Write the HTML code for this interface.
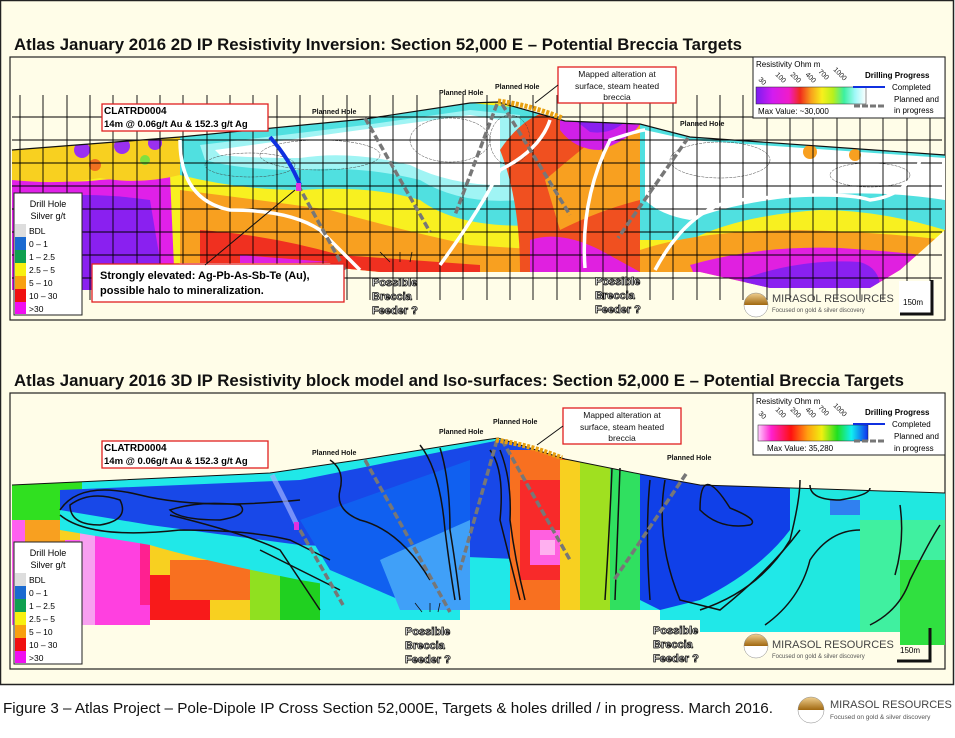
<!DOCTYPE html>
<html><head><meta charset="utf-8"><style>
html,body{margin:0;padding:0;background:#fff;}
svg{display:block;}
text{font-family:"Liberation Sans",sans-serif;}
</style></head><body>
<svg width="955" height="738" viewBox="0 0 955 738" xmlns="http://www.w3.org/2000/svg">
<defs>
<linearGradient id="res1" x1="0" x2="1">
<stop offset="0" stop-color="#7a1cf0"/><stop offset=".15" stop-color="#d21cf0"/><stop offset=".3" stop-color="#f01cc8"/><stop offset=".4" stop-color="#f02a1c"/><stop offset=".5" stop-color="#f8a01c"/><stop offset=".6" stop-color="#f8f01c"/><stop offset=".7" stop-color="#b8f01c"/><stop offset=".8" stop-color="#3cf0a0"/><stop offset=".9" stop-color="#a0f8f8"/><stop offset="1" stop-color="#fff"/></linearGradient>
<linearGradient id="res2" x1="0" x2="1">
<stop offset="0" stop-color="#ffd0ff"/><stop offset=".12" stop-color="#ff20d0"/><stop offset=".3" stop-color="#ff1010"/><stop offset=".45" stop-color="#ffa010"/><stop offset=".58" stop-color="#f0f010"/><stop offset=".72" stop-color="#20e020"/><stop offset=".85" stop-color="#10f0f0"/><stop offset="1" stop-color="#1030f0"/></linearGradient>
<linearGradient id="logo" x1="0" y1="0" x2="0" y2="1"><stop offset="0" stop-color="#f0d090"/><stop offset=".5" stop-color="#a06810"/><stop offset=".5" stop-color="#fff"/><stop offset="1" stop-color="#fff"/></linearGradient>
<clipPath id="c1"><path d="M12,150 L180,137 L365,119 L470,103 L498,102 L565,121 L640,124 L690,137 L945,155 L945,230 L900,270 L870,288 L770,288 L700,272 L560,272 L460,272 L380,272 L340,268 L330,263 L180,263 L95,290 L12,290 Z"/></clipPath>
<clipPath id="c2"><path d="M12,485 L270,473 L365,459 L470,442 L498,438 L565,459 L640,474 L700,485 L945,493 L945,645 L900,645 L900,632 L700,632 L700,620 L660,620 L660,610 L460,610 L460,620 L150,620 L150,625 L12,625 Z"/></clipPath>
</defs>
<!-- outer panel -->
<rect x="0.5" y="0.5" width="953" height="684" fill="#fffde8" stroke="#222" stroke-width="1.5"/>
<text x="14" y="50" font-size="17" font-weight="bold" fill="#111" textLength="728" lengthAdjust="spacingAndGlyphs">Atlas January 2016 2D IP Resistivity Inversion: Section 52,000 E – Potential Breccia Targets</text>
<text x="14" y="386" font-size="17" font-weight="bold" fill="#111" textLength="890" lengthAdjust="spacingAndGlyphs">Atlas January 2016 3D IP Resistivity block model and Iso-surfaces: Section 52,000 E – Potential Breccia Targets</text>
<rect x="10" y="57" width="935" height="263" fill="#fffde8" stroke="#222" stroke-width="1.2"/>
<rect x="10" y="393" width="935" height="276" fill="#fffde8" stroke="#222" stroke-width="1.2"/>

<!-- TOP section -->
<g clip-path="url(#c1)">
<rect x="0" y="90" width="955" height="220" fill="#f8f020"/>
<!-- left -->
<path d="M12,175 Q60,185 100,180 L170,175 L175,290 L12,290Z" fill="#e020e8"/>
<path d="M30,200 Q80,190 150,200 L165,290 L40,290Z" fill="#8a20f0"/>
<path d="M12,150 L180,137 L180,175 Q140,185 100,178 Q60,185 12,180Z" fill="#f8d020"/>
<circle cx="82" cy="150" r="8" fill="#9a30f0"/><circle cx="122" cy="146" r="8" fill="#9a30f0"/><circle cx="155" cy="143" r="7" fill="#9a30f0"/>
<circle cx="95" cy="165" r="6" fill="#f07020"/><circle cx="145" cy="160" r="5" fill="#80e040"/>
<!-- middle -->
<path d="M180,137 L365,119 L470,103 L545,110 L545,225 Q460,230 420,200 Q370,185 300,190 Q240,190 180,175Z" fill="#50e0e0"/>
<path d="M200,145 L365,125 L470,110 L520,115 L520,200 Q460,205 420,180 Q360,165 300,170 Q240,170 205,160Z" fill="#a0f4f4"/>
<path d="M215,150 L360,130 L470,115 L500,120 L500,185 Q450,185 410,165 Q350,150 300,158 Q250,158 220,155Z" fill="#fff"/>
<path d="M180,190 Q260,200 330,210 Q400,230 470,245 L545,250 L545,272 L180,272Z" fill="#f8a020"/>
<path d="M200,230 Q270,235 340,255 L480,265 L480,272 L200,272Z" fill="#f03020"/>
<path d="M240,255 L330,262 L240,265Z" fill="#e020e0"/>
<!-- center-right red -->
<path d="M500,150 Q520,120 545,112 L640,124 L640,272 L520,272 Q520,200 500,150Z" fill="#f05020"/>
<path d="M545,180 Q580,150 600,135 L640,125 L640,200 Q600,210 560,230Z" fill="#f8a020"/>
<path d="M560,118 L640,124 Q630,140 600,150 Q575,150 560,130Z" fill="#d020e8"/>
<path d="M575,120 L625,122 Q610,135 590,132Z" fill="#8a20f0"/>
<path d="M530,240 Q560,230 600,250 L640,272 L530,272Z" fill="#e020e0"/>
<!-- right -->
<path d="M640,124 L690,137 L945,155 L945,230 Q880,210 820,210 Q740,215 690,240 Q660,240 640,240Z" fill="#50e0e0"/>
<path d="M645,130 L690,140 L945,158 L945,200 Q880,190 820,195 Q740,200 690,220 Q660,215 645,200Z" fill="#fff"/>
<path d="M640,250 Q700,230 800,230 Q880,232 945,240 L945,250 L900,260 Q830,250 760,258 L700,272 L640,272Z" fill="#f8a020"/>
<path d="M690,265 Q760,245 840,248 Q900,252 920,255 L880,288 L700,288Z" fill="#e020e0"/>
<path d="M740,280 Q800,258 860,262 Q880,268 880,288 L760,288Z" fill="#8a20f0"/>
<circle cx="810" cy="152" r="7" fill="#f8a020"/><circle cx="855" cy="155" r="6" fill="#f8a020"/>
</g>
<!-- contours top (thin) -->
<g fill="none" stroke="#444" stroke-width="0.5" stroke-dasharray="3,1">
<ellipse cx="320" cy="155" rx="60" ry="15"/><ellipse cx="250" cy="165" rx="45" ry="12"/><ellipse cx="450" cy="140" rx="40" ry="22"/>
<ellipse cx="720" cy="160" rx="50" ry="18"/><ellipse cx="870" cy="175" rx="40" ry="12"/><ellipse cx="510" cy="140" rx="20" ry="25"/>
</g>
<!-- grid top -->
<g stroke="#000" stroke-width="0.9">
<path d="M20,95V300M43,95V300M67,95V300M90,95V300M113,95V300M137,95V300M160,95V300M183,95V300M207,95V300M230,95V300M253,95V300M277,95V300M300,95V300M323,95V300M347,95V300M370,95V300M393,95V300M417,95V300M440,95V300M463,95V300M487,95V300M510,95V300M533,95V300M557,95V300M580,95V300M603,95V300M627,95V300M650,95V300M673,95V300M697,95V300M720,95V300M743,95V300M767,95V300M790,95V300M813,95V300M837,95V300M860,95V300M883,95V300M907,95V300M930,95V300"/>
<path d="M12,117H942M12,140H942M12,163H942M12,186H942M12,209H942M12,232H942M12,255H942M12,278H942"/>
</g>
<path d="M12,150 L180,137 L365,119 L470,103 L498,102 L565,121 L640,124 L690,137 L945,155" fill="none" stroke="#111" stroke-width="1.2"/>
<!-- white fault lines top -->
<g fill="none" stroke="#fff" stroke-width="3.5">
<path d="M180,140 Q180,200 230,210 Q290,210 320,230 Q340,250 360,270"/>
<path d="M440,265 Q480,210 500,170 Q540,150 550,120"/>
<path d="M585,268 Q580,200 610,140 Q640,130 645,130"/>
<path d="M655,270 Q690,205 740,200 Q840,190 870,200 Q910,195 920,160"/>
</g>
<!-- drill holes top -->
<g fill="none" stroke="#777" stroke-width="3.5" stroke-dasharray="7,3">
<path d="M365,118 L430,232"/><path d="M497,104 L455,215"/><path d="M502,104 L570,215"/><path d="M688,138 L618,238"/><path d="M298,185 L345,270"/>
</g>
<path d="M270,137 Q290,160 300,185" fill="none" stroke="#1030e0" stroke-width="4"/>
<rect x="296" y="183" width="5" height="8" fill="#e030e0"/>
<path d="M498,101 Q530,105 562,118" fill="none" stroke="#e8a010" stroke-width="5" stroke-dasharray="3,1.5"/>
<!-- labels top -->
<g font-size="7" font-weight="bold" fill="#111">
<text x="312" y="114">Planned Hole</text><text x="439" y="95">Planned Hole</text><text x="495" y="89">Planned Hole</text><text x="680" y="126">Planned Hole</text>
</g>
<rect x="102" y="104" width="166" height="27" fill="#fff" stroke="#e02020" stroke-width="1.3"/>
<text x="104" y="114" font-size="10" font-weight="bold">CLATRD0004</text>
<text x="104" y="127" font-size="9.5" font-weight="bold">14m @ 0.06g/t Au &amp; 152.3 g/t Ag</text>
<rect x="558" y="67" width="118" height="36" fill="#fff" stroke="#e02020" stroke-width="1.3"/>
<g font-size="8.5" text-anchor="middle" fill="#111"><text x="617" y="77">Mapped alteration at</text><text x="617" y="89">surface, steam heated</text><text x="617" y="100">breccia</text></g>
<path d="M558,85 L535,103" stroke="#111" stroke-width="1"/>
<rect x="92" y="264" width="252" height="38" fill="#fff" stroke="#e02020" stroke-width="1.3"/>
<text x="100" y="279" font-size="11" font-weight="bold">Strongly elevated: Ag-Pb-As-Sb-Te (Au),</text>
<text x="100" y="294" font-size="11" font-weight="bold">possible halo to mineralization.</text>
<path d="M205,265 L295,190" stroke="#111" stroke-width="1"/>
<!-- drill hole legend top -->
<g>
<rect x="14" y="193" width="68" height="122" fill="#fff" stroke="#222"/>
<text x="48" y="207" font-size="9" text-anchor="middle">Drill Hole</text><text x="48" y="219" font-size="9" text-anchor="middle">Silver g/t</text>
<rect x="15" y="224" width="11" height="13" fill="#ddd"/><rect x="15" y="237" width="11" height="13" fill="#1a6ad0"/><rect x="15" y="250" width="11" height="13" fill="#10a050"/><rect x="15" y="263" width="11" height="13" fill="#f8f010"/><rect x="15" y="276" width="11" height="13" fill="#f8a010"/><rect x="15" y="289" width="11" height="13" fill="#f01010"/><rect x="15" y="302" width="11" height="12" fill="#f010f0"/>
<g font-size="8.5"><text x="29" y="234">BDL</text><text x="29" y="247">0 – 1</text><text x="29" y="260">1 – 2.5</text><text x="29" y="273">2.5 – 5</text><text x="29" y="286">5 – 10</text><text x="29" y="299">10 – 30</text><text x="29" y="312">&gt;30</text></g>
</g>
<!-- res legend top -->
<rect x="753" y="57" width="192" height="61" fill="#fff" stroke="#222"/>
<text x="756" y="67" font-size="8">Resistivity Ohm m</text>
<g font-size="7" fill="#111"><text transform="translate(758,80) rotate(45)">30</text><text transform="translate(775,75) rotate(45)">100</text><text transform="translate(790,75) rotate(45)">200</text><text transform="translate(805,75) rotate(45)">400</text><text transform="translate(818,72) rotate(45)">700</text><text transform="translate(833,70) rotate(45)">1000</text></g>
<rect x="756" y="87" width="110" height="17" fill="url(#res1)" stroke="#222" stroke-width=".5"/>
<text x="758" y="114" font-size="8">Max Value: ~30,000</text>
<text x="865" y="78" font-size="8" font-weight="bold">Drilling Progress</text>
<path d="M853,87 H885" stroke="#1030e0" stroke-width="2"/><text x="892" y="90" font-size="8">Completed</text>
<path d="M854,106 H885" stroke="#777" stroke-width="3" stroke-dasharray="6,2"/><text x="894" y="102" font-size="8">Planned and</text><text x="894" y="113" font-size="8">in progress</text>

<!-- feeders top -->
<g font-size="11" font-weight="bold" fill="#fff" stroke="#111" stroke-width="0.8">
<text x="372" y="286">Possible</text><text x="372" y="300">Breccia</text><text x="372" y="314">Feeder ?</text>
<text x="595" y="285">Possible</text><text x="595" y="299">Breccia</text><text x="595" y="313">Feeder ?</text>
</g>
<path d="M390,262 L380,252 M400,262 L400,252 M410,262 L412,252" stroke="#111" stroke-width="0.8"/>
<!-- logo top -->
<circle cx="756" cy="305" r="12" fill="url(#logo)" stroke="#888" stroke-width=".5"/>
<text x="772" y="302" font-size="11" fill="#444">MIRASOL RESOURCES</text>
<text x="772" y="312" font-size="6" fill="#555">Focused on gold &amp; silver discovery</text>
<rect x="899" y="281" width="35" height="32" fill="#fff"/>
<path d="M932,280 V314 H900" fill="none" stroke="#111" stroke-width="3"/>
<text x="903" y="305" font-size="8">150m</text>

<!-- BOTTOM section -->
<g clip-path="url(#c2)">
<rect x="0" y="430" width="955" height="230" fill="#20e8e8"/>
<rect x="12" y="480" width="70" height="40" fill="#30e020"/>
<rect x="12" y="520" width="70" height="110" fill="#ff60f0"/>
<rect x="25" y="520" width="40" height="25" fill="#f8a020"/>
<rect x="60" y="495" width="100" height="45" fill="#f8d020"/>
<rect x="80" y="525" width="70" height="100" fill="#f8a0f0"/>
<rect x="95" y="530" width="60" height="95" fill="#ff40e0"/>
<rect x="140" y="525" width="20" height="80" fill="#ff2090"/>
<rect x="150" y="545" width="120" height="80" fill="#f8d020"/>
<rect x="150" y="575" width="60" height="50" fill="#f81a1a"/>
<rect x="170" y="560" width="80" height="40" fill="#f87020"/>
<rect x="250" y="545" width="50" height="80" fill="#90e020"/>
<rect x="280" y="560" width="40" height="60" fill="#20d020"/>
<path d="M60,490 L300,480 L500,440 L540,445 L540,560 L420,555 L300,550 Q200,540 150,535 L60,520Z" fill="#1848e8"/>
<path d="M60,510 L150,525 L300,545 L420,550 L420,600 L300,580 Q200,560 150,545 L60,530Z" fill="#20e8e8"/>
<path d="M300,520 L470,460 L470,600 L400,600 L330,570Z" fill="#1060f0"/>
<path d="M380,560 L470,520 L470,610 L400,610Z" fill="#40a0f8"/>
<rect x="510" y="450" width="70" height="170" fill="#f87020"/>
<rect x="520" y="480" width="40" height="100" fill="#f82a2a"/>
<rect x="530" y="530" width="30" height="35" fill="#ff60e0"/>
<rect x="540" y="540" width="15" height="15" fill="#ffb0f0"/>
<rect x="560" y="460" width="40" height="160" fill="#f8d020"/>
<rect x="580" y="460" width="50" height="160" fill="#a0e020"/>
<rect x="610" y="460" width="30" height="150" fill="#30e060"/>
<path d="M640,470 L790,480 L790,530 Q760,570 700,600 L660,610 L640,600Z" fill="#1040e8"/>
<rect x="790" y="490" width="155" height="160" fill="#20e8e0"/>
<rect x="860" y="520" width="85" height="130" fill="#40f0a0"/>
<rect x="900" y="560" width="45" height="90" fill="#30e040"/>
<rect x="830" y="500" width="30" height="15" fill="#3080f0"/>
</g>
<g fill="none" stroke="#111" stroke-width="1.5">
<path d="M70,505 Q90,490 120,500 Q130,520 100,525 Q70,525 70,505Z"/>
<path d="M60,510 Q80,480 140,495 Q200,510 300,500"/>
<path d="M60,515 Q90,540 180,530 Q250,530 290,540 L330,560"/>
<path d="M170,510 Q200,500 240,505 Q250,515 220,520 Q180,520 170,510Z"/>
<path d="M170,515 Q250,535 280,550 Q300,580 320,610"/>
<path d="M260,550 Q300,570 340,590"/>
<path d="M330,460 Q345,470 340,490 Q335,510 360,520 Q400,530 430,580"/>
<path d="M420,445 Q440,470 445,530 Q450,570 455,600"/>
<path d="M440,448 Q450,480 450,530 Q455,560 460,600"/>
<path d="M490,450 Q505,470 500,520 Q510,560 520,600"/>
<path d="M500,450 Q512,480 510,520 Q515,560 525,600"/>
<path d="M612,468 Q610,520 605,600"/>
<path d="M620,468 Q618,520 615,600"/>
<path d="M650,480 Q645,530 650,600"/>
<path d="M665,480 Q655,540 680,600 L720,610 Q770,570 800,530"/>
<path d="M700,510 Q700,460 730,508 Q760,520 750,525 Q720,530 700,510Z"/>
<path d="M700,610 Q760,590 790,540 Q800,500 800,480"/>
<path d="M810,485 Q810,500 840,500 Q870,495 870,488"/>
<path d="M765,625 Q800,600 810,560 Q830,530 860,530"/>
<path d="M870,625 Q900,610 910,580 Q930,540 940,525"/>
<path d="M900,505 Q905,540 895,575"/>
</g>
<path d="M12,485 L270,473 L365,459 L470,442 L498,438 L565,459 L640,474 L700,485 L945,493" fill="none" stroke="#111" stroke-width="1"/>
<g fill="none" stroke="#777" stroke-width="3.5" stroke-dasharray="7,3">
<path d="M365,460 L450,612"/><path d="M497,440 L460,570"/><path d="M502,440 L570,560"/><path d="M686,474 L614,580"/><path d="M300,530 L343,605"/>
</g>
<path d="M272,475 Q285,500 297,525" fill="none" stroke="#a0b0ff" stroke-width="5" opacity=".7"/>
<rect x="294" y="522" width="5" height="8" fill="#e030e0"/>
<path d="M496,440 Q530,445 562,458" fill="none" stroke="#e8a010" stroke-width="5" stroke-dasharray="3,1.5"/>
<g font-size="7" font-weight="bold" fill="#111">
<text x="312" y="455">Planned Hole</text><text x="439" y="434">Planned Hole</text><text x="493" y="424">Planned Hole</text><text x="667" y="460">Planned Hole</text>
</g>
<rect x="102" y="441" width="166" height="27" fill="#fff" stroke="#e02020" stroke-width="1.3"/>
<text x="104" y="451" font-size="10" font-weight="bold">CLATRD0004</text>
<text x="104" y="464" font-size="9.5" font-weight="bold">14m @ 0.06g/t Au &amp; 152.3 g/t Ag</text>
<rect x="563" y="408" width="118" height="36" fill="#fff" stroke="#e02020" stroke-width="1.3"/>
<g font-size="8.5" text-anchor="middle" fill="#111"><text x="622" y="418">Mapped alteration at</text><text x="622" y="430">surface, steam heated</text><text x="622" y="441">breccia</text></g>
<path d="M563,426 L537,445" stroke="#111" stroke-width="1"/>
<g>
<rect x="14" y="542" width="68" height="122" fill="#fff" stroke="#222"/>
<text x="48" y="556" font-size="9" text-anchor="middle">Drill Hole</text><text x="48" y="568" font-size="9" text-anchor="middle">Silver g/t</text>
<rect x="15" y="573" width="11" height="13" fill="#ddd"/><rect x="15" y="586" width="11" height="13" fill="#1a6ad0"/><rect x="15" y="599" width="11" height="13" fill="#10a050"/><rect x="15" y="612" width="11" height="13" fill="#f8f010"/><rect x="15" y="625" width="11" height="13" fill="#f8a010"/><rect x="15" y="638" width="11" height="13" fill="#f01010"/><rect x="15" y="651" width="11" height="12" fill="#f010f0"/>
<g font-size="8.5"><text x="29" y="583">BDL</text><text x="29" y="596">0 – 1</text><text x="29" y="609">1 – 2.5</text><text x="29" y="622">2.5 – 5</text><text x="29" y="635">5 – 10</text><text x="29" y="648">10 – 30</text><text x="29" y="661">&gt;30</text></g>
</g>
<rect x="753" y="393" width="192" height="62" fill="#fff" stroke="#222"/>
<text x="756" y="404" font-size="8">Resistivity Ohm m</text>
<g font-size="7" fill="#111"><text transform="translate(758,414) rotate(45)">30</text><text transform="translate(775,410) rotate(45)">100</text><text transform="translate(790,410) rotate(45)">200</text><text transform="translate(805,410) rotate(45)">400</text><text transform="translate(818,408) rotate(45)">700</text><text transform="translate(833,406) rotate(45)">1000</text></g>
<rect x="758" y="425" width="110" height="16" fill="url(#res2)" stroke="#222" stroke-width=".5"/>
<text x="767" y="451" font-size="8">Max Value: 35,280</text>
<text x="865" y="415" font-size="8" font-weight="bold">Drilling Progress</text>
<path d="M853,424 H885" stroke="#1030e0" stroke-width="2"/><text x="892" y="427" font-size="8">Completed</text>
<path d="M854,441 H885" stroke="#777" stroke-width="3" stroke-dasharray="6,2"/><text x="894" y="439" font-size="8">Planned and</text><text x="894" y="451" font-size="8">in progress</text>
<g font-size="11" font-weight="bold" fill="#fff" stroke="#111" stroke-width="0.8">
<text x="405" y="635">Possible</text><text x="405" y="649">Breccia</text><text x="405" y="663">Feeder ?</text>
<text x="653" y="634">Possible</text><text x="653" y="648">Breccia</text><text x="653" y="662">Feeder ?</text>
</g>
<path d="M422,612 L415,603 M430,612 L430,603 M438,612 L440,603" stroke="#111" stroke-width="0.8"/>
<circle cx="756" cy="646" r="12" fill="url(#logo)" stroke="#888" stroke-width=".5"/>
<text x="772" y="648" font-size="11" fill="#444">MIRASOL RESOURCES</text>
<text x="772" y="658" font-size="6" fill="#555">Focused on gold &amp; silver discovery</text>
<path d="M930,628 V661 H897" fill="none" stroke="#111" stroke-width="3"/>
<text x="900" y="653" font-size="8">150m</text>

<!-- caption -->
<text x="3" y="713" font-size="15" fill="#111" textLength="770" lengthAdjust="spacingAndGlyphs">Figure 3 – Atlas Project – Pole-Dipole IP Cross Section 52,000E, Targets &amp; holes drilled / in progress. March 2016.</text>
<circle cx="811" cy="710" r="13" fill="url(#logo)" stroke="#888" stroke-width=".5"/>
<text x="830" y="708" font-size="11" fill="#444">MIRASOL RESOURCES</text>
<text x="830" y="719" font-size="6.5" fill="#555">Focused on gold &amp; silver discovery</text>
</svg>
</body></html>
